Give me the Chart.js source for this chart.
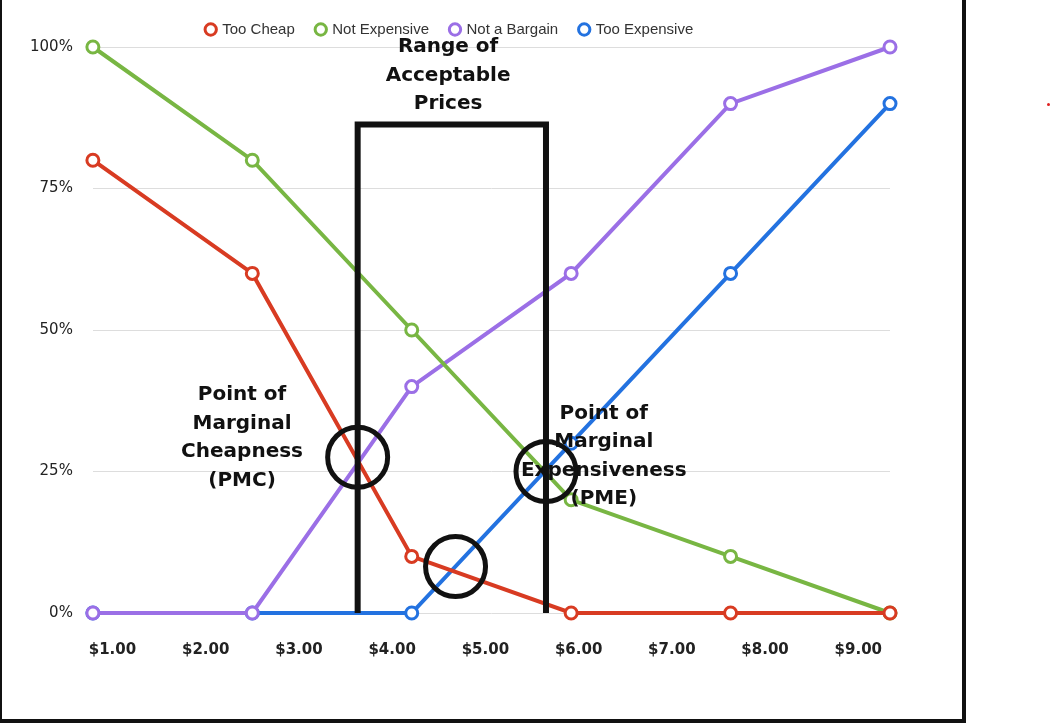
<!DOCTYPE html>
<html><head><meta charset="utf-8">
<script src="https://cdn.jsdelivr.net/npm/chart.js@4"></script>
<style>
html,body{margin:0;padding:0;background:#fff;}
#wrap{position:absolute;left:0;top:0;width:960px;height:719px;border-right:4px solid #111;border-bottom:4px solid #111;border-left:2px solid #111;}
#dot{position:absolute;left:1047px;top:103px;width:3px;height:3px;background:#e02020;border-radius:50%;}
</style></head><body>
<div id="wrap"><canvas id="c" width="960" height="719"></canvas></div><div id="dot"></div>
<script>
const prices=[0.79,2.5,4.21,5.92,7.63,9.34];
const tickLabels=['$1.00','$2.00','$3.00','$4.00','$5.00','$6.00','$7.00','$8.00','$9.00'];
const tooCheap=[80,60,10,0,0,0];
const notExpensive=[100,80,50,20,10,0];
const notBargain=[0,0,40,60,90,100];
const tooExpensive=[0,0,0,30,60,90];
const rangeBox=[3.63,5.65,86.3];
const circles=[[3.63,27.5],[5.65,25],[4.68,8.2]];
const notes=[
 {x:4.6,y:100,lines:['Range of','Acceptable','Prices']},
 {x:2.39,y:38.5,lines:['Point of','Marginal','Cheapness','(PMC)']},
 {x:6.27,y:35.2,lines:['Point of','Marginal','Expensiveness','(PME)']}
];
function pts(v){return prices.map((p,i)=>({x:p,y:v[i]}));}
function ds(label,v,c){return {label,data:pts(v),borderColor:c,backgroundColor:'#fff',borderWidth:4,pointRadius:6,pointBorderWidth:3,pointHoverRadius:6,pointBackgroundColor:'#fff',tension:0,clip:false};}
const annot={id:'annot',afterDatasetsDraw(ch){
 const {ctx,scales:{x,y}}=ch;ctx.save();
 ctx.strokeStyle='#111';ctx.lineWidth=6;ctx.beginPath();
 ctx.moveTo(x.getPixelForValue(rangeBox[0]),y.getPixelForValue(0));
 ctx.lineTo(x.getPixelForValue(rangeBox[0]),y.getPixelForValue(rangeBox[2]));
 ctx.lineTo(x.getPixelForValue(rangeBox[1]),y.getPixelForValue(rangeBox[2]));
 ctx.lineTo(x.getPixelForValue(rangeBox[1]),y.getPixelForValue(0));ctx.stroke();
 ctx.lineWidth=5;
 circles.forEach(c=>{ctx.beginPath();ctx.arc(x.getPixelForValue(c[0]),y.getPixelForValue(c[1]),30,0,Math.PI*2);ctx.stroke();});
 ctx.fillStyle='#111';ctx.font='bold 20px "DejaVu Sans"';ctx.textAlign='center';ctx.textBaseline='middle';
 notes.forEach(n=>{const px=x.getPixelForValue(n.x),py=y.getPixelForValue(n.y);n.lines.forEach((l,i)=>ctx.fillText(l,px,py+i*28.5));});
 ctx.restore();}};
new Chart(document.getElementById('c'),{type:'line',
 data:{datasets:[ds('Too Cheap',tooCheap,'#d83b22'),ds('Not Expensive',notExpensive,'#78b643'),ds('Not a Bargain',notBargain,'#9b6fe6'),ds('Too Expensive',tooExpensive,'#2372e0')]},
 options:{responsive:false,animation:false,devicePixelRatio:1,
  layout:{padding:{left:8,right:72,top:0,bottom:40}},
  plugins:{legend:{labels:{usePointStyle:true,pointStyle:'circle',boxWidth:8,boxHeight:8,padding:22,color:'#333',font:{family:'"Liberation Sans"',size:15}}},tooltip:{enabled:false}},
  scales:{x:{type:'linear',min:0.79,max:9.34,grid:{display:false},border:{display:false},
    afterBuildTicks(a){a.ticks=tickLabels.map((t,i)=>({value:i+1}));},
    ticks:{callback:(v)=>tickLabels[v-1],color:'#222',font:{family:'"DejaVu Sans"',weight:'bold',size:15},maxRotation:0,autoSkip:false,padding:20}},
   y:{min:0,max:100,grid:{color:'#ddd',drawTicks:false},border:{display:false},
    ticks:{stepSize:25,callback:v=>v+'%',color:'#222',font:{family:'"DejaVu Sans"',size:15},padding:20}}}},
 plugins:[annot]});
</script>
</body></html>
